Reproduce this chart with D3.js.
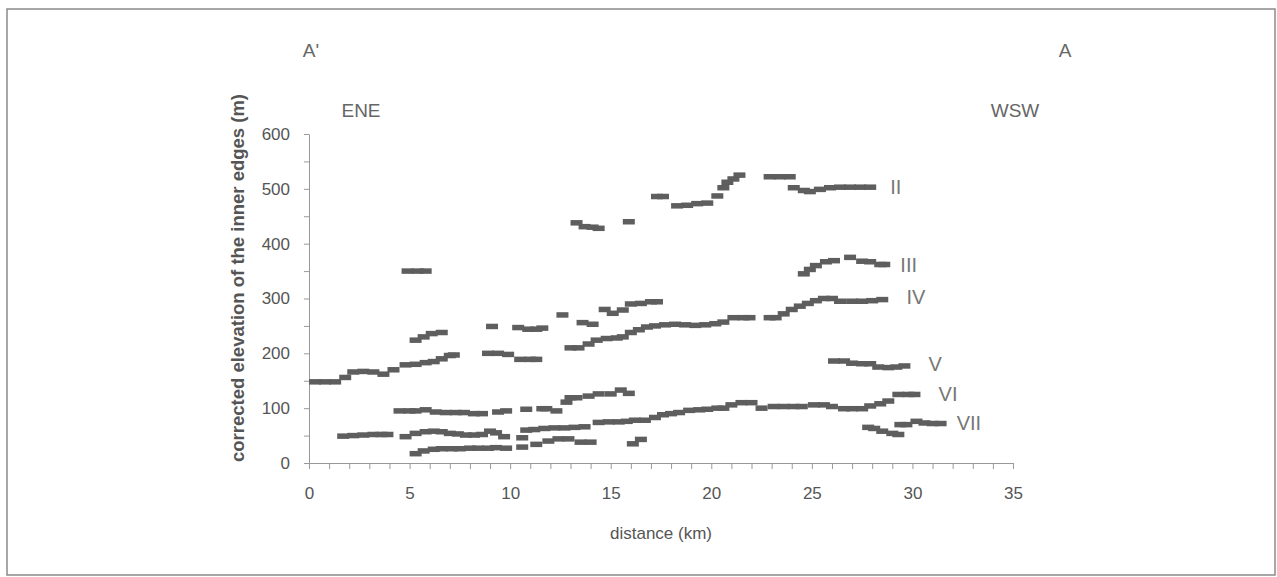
<!DOCTYPE html>
<html>
<head>
<meta charset="utf-8">
<script src="https://cdn.jsdelivr.net/npm/d3@7"></script>
<style>
  body { margin: 0; background: #fff; }
  text { font-family: "Liberation Sans", Arial, sans-serif; }
</style>
</head>
<body>
<div id="chart"></div>
<script>
// inner-edge elevations, [distance km, elevation m]
const terraceII = [[13.3,438],[13.7,431],[14.1,430],[14.4,428],[15.9,440],[17.3,486],[17.6,486],
  [18.3,469],[18.8,470],[19.3,473],[19.8,474],[20.3,487],[20.6,502],[20.8,512],[21.1,518],[21.4,525],
  [22.9,522],[23.4,522],[23.9,522],[24.1,502],[24.6,497],[24.9,495],[25.4,499],[25.9,502],
  [26.4,503],[26.9,503],[27.4,503],[27.9,503]];
const terraceIII = [[4.9,350],[5.4,350],[5.8,350],[5.3,224],[5.7,230],[6.1,236],[6.6,238],[9.1,249],
  [10.4,247],[10.9,244],[11.3,244],[11.6,246],[12.6,270],[13.6,256],[14.1,253],[14.7,280],[15.1,273],
  [15.6,279],[16.0,290],[16.5,291],[17.0,294],[17.3,294],
  [24.6,345],[24.9,353],[25.2,360],[25.7,367],[26.1,369],[26.9,375],[27.5,368],[27.9,367],[28.4,362],[28.6,362]];
const terraceIV = [[0.3,148],[0.8,148],[1.3,148],[1.8,156],[2.2,166],[2.7,167],[3.2,166],[3.7,162],
  [4.2,170],[4.8,179],[5.3,180],[5.8,183],[6.2,185],[6.6,190],[7.0,196],[7.2,197],
  [8.9,200],[9.4,200],[9.9,198],[10.5,189],[11.0,189],[11.3,189],
  [13.0,210],[13.4,210],[13.9,217],[14.3,224],[14.8,227],[15.3,228],[15.6,230],[16.0,238],[16.4,243],
  [16.8,248],[17.2,250],[17.7,252],[18.2,253],[18.7,252],[19.2,251],[19.7,252],[20.2,254],[20.6,257],
  [21.1,265],[21.6,265],[21.9,265],[22.9,265],[23.2,265],[23.6,272],[24.0,280],[24.4,286],[24.8,291],
  [25.2,296],[25.6,300],[26.0,300],[26.4,295],[27.0,295],[27.5,295],[28.0,296],[28.5,298]];
const terraceV = [[4.5,95],[5.0,95],[5.3,95],[5.8,97],[6.3,93],[6.8,92],[7.3,92],[7.7,92],[8.2,90],
  [8.6,90],[9.4,93],[9.8,95],[10.8,98],[11.6,99],[11.8,99],[12.3,95],[12.8,111],[13.0,119],[13.3,119],
  [13.9,122],[14.4,126],[15.0,126],[15.5,133],[15.9,127],
  [26.1,186],[26.6,186],[27.0,182],[27.5,181],[27.9,181],[28.3,175],[28.8,174],[29.2,175],[29.6,177]];
const terraceVI = [[1.7,49],[2.2,50],[2.7,51],[3.2,52],[3.6,52],[3.9,52],[4.8,48],[5.3,54],[5.8,57],
  [6.2,58],[6.6,57],[7.0,54],[7.4,53],[7.8,51],[8.2,51],[8.6,52],[9.0,58],[9.3,55],[9.7,48],[10.6,46],
  [10.8,60],[11.2,61],[11.7,63],[12.2,64],[12.7,64],[13.2,65],[13.7,66],[14.4,74],[14.9,75],[15.4,75],
  [15.8,76],[16.2,78],[16.7,78],[17.2,83],[17.6,88],[18.0,90],[18.4,92],[18.9,96],[19.4,97],[19.8,98],
  [20.3,100],[20.6,100],[21.0,106],[21.5,110],[22.0,110],[22.5,100],[23.1,103],[23.6,103],[24.1,103],
  [24.5,103],[25.1,106],[25.6,106],[26.0,103],[26.6,99],[27.0,99],[27.5,99],[27.9,104],[28.4,108],
  [28.8,113],[29.3,125],[29.8,125],[30.1,125]];
const terraceVII = [[5.3,17],[5.7,22],[6.2,25],[6.6,26],[7.1,26],[7.5,26],[8.0,27],[8.4,27],[8.9,27],
  [9.3,28],[9.8,27],[10.6,29],[11.3,34],[11.9,40],[12.4,44],[12.9,44],[13.5,38],[14.0,38],[16.1,35],[16.5,43],
  [27.8,65],[28.1,63],[28.5,58],[29.0,54],[29.3,52],[29.4,70],[29.7,70],[30.2,76],[30.6,73],[31.0,72],[31.4,72]];

const labelNames = ["II", "III", "IV", "V", "VI", "VII"];
const labelKm = [28.9, 29.4, 29.7, 30.8, 31.3, 32.2];
const labelM = [503, 361, 303, 181, 126, 73];

const xTicks = d3.range(0, 36, 1);
const yTicks = d3.range(0, 601, 50);

const W = 1277, H = 577;
const svg = d3.select("#chart").append("svg").attr("width", W).attr("height", H);

svg.append("rect").attr("x", 7).attr("y", 9).attr("width", 1268).attr("height", 566)
  .attr("fill", "none").attr("stroke", "#8a8a8a").attr("stroke-width", 1.5);

const x = d3.scaleLinear().domain([0, 35]).range([309, 1013]);
const y = d3.scaleLinear().domain([0, 600]).range([463, 134]);

const gx = svg.append("g").attr("transform", `translate(0,${y(0)})`)
  .call(d3.axisBottom(x).tickValues(xTicks).tickSize(6).tickSizeOuter(0).tickPadding(18)
    .tickFormat(d => d % 5 === 0 ? d : ""));
const gy = svg.append("g").attr("transform", `translate(${x(0)},0)`)
  .call(d3.axisLeft(y).tickValues(yTicks).tickSize(5).tickSizeOuter(0).tickPadding(14)
    .tickFormat(d => d % 100 === 0 ? d : ""));
[gx, gy].forEach(g => {
  g.select(".domain").attr("stroke", "#999");
  g.selectAll(".tick line").attr("stroke", "#999");
  g.selectAll(".tick text").attr("fill", "#555").style("font-size", "17px")
    .style("font-family", "'Liberation Sans', Arial, sans-serif");
});

const all = [terraceII, terraceIII, terraceIV, terraceV, terraceVI, terraceVII];
all.forEach(series => {
  svg.append("g").selectAll("rect").data(series).enter().append("rect")
    .attr("x", d => x(d[0]) - 6).attr("y", d => y(d[1]) - 2.75)
    .attr("width", 12).attr("height", 5.5).attr("fill", "#5e5e5e");
});

svg.append("g").selectAll("text").data(labelNames).enter().append("text")
  .attr("x", (d, i) => x(labelKm[i])).attr("y", (d, i) => y(labelM[i]) + 7)
  .attr("fill", "#777").style("font-size", "20px").text(d => d);

const notes = [["A'", 311, 57], ["A", 1065, 57], ["ENE", 361, 117], ["WSW", 1015, 117]];
svg.append("g").selectAll("text").data(notes).enter().append("text")
  .attr("x", d => d[1]).attr("y", d => d[2]).attr("text-anchor", "middle")
  .attr("fill", "#666").style("font-size", "19px").text(d => d[0]);

svg.append("text").attr("x", 661).attr("y", 539).attr("text-anchor", "middle")
  .attr("fill", "#555").style("font-size", "17px").text("distance (km)");
svg.append("text").attr("transform", "translate(244,278) rotate(-90)").attr("text-anchor", "middle")
  .attr("fill", "#555").style("font-size", "18.5px").style("font-weight", "bold")
  .text("corrected elevation of the inner edges (m)");
</script>
</body>
</html>
